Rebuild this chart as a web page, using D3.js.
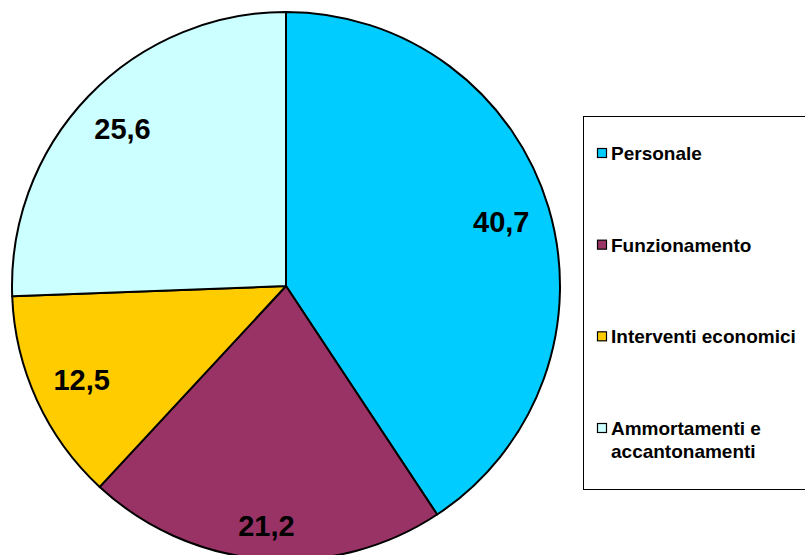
<!DOCTYPE html>
<html>
<head>
<meta charset="utf-8">
<script src="https://cdn.jsdelivr.net/npm/d3@7"></script>
<style>
  body { margin: 0; background: #fff; overflow: hidden; }
  svg { display: block; font-family: "Liberation Sans", Arial, sans-serif; }
</style>
</head>
<body>
<div id="chart"></div>
<script>
// spesa per categoria (%)
var categories = ["Personale", "Funzionamento", "Interventi economici", "Ammortamenti e accantonamenti"];
var values = [40.7, 21.2, 12.5, 25.6];
var labels = ["40,7", "21,2", "12,5", "25,6"];
var colors = ["#00CCFF", "#993366", "#FFCC00", "#CCFFFF"];

var svgWidth = 805;
var svgHeight = 555;

var cx = 286, cy = 286, radius = 274;
var labelFont = 29;

var svg = d3.select("#chart")
  .append("svg")
  .attr("width", svgWidth)
  .attr("height", svgHeight);

var pieGroup = svg.append("g")
  .attr("transform", `translate(${cx}, ${cy})`);

var pie = d3.pie().sort(null).value(function(d) { return d; });
var arc = d3.arc().innerRadius(0).outerRadius(radius);

var arcs = pie(values);

pieGroup.selectAll("path")
  .data(arcs)
  .enter()
  .append("path")
  .attr("d", arc)
  .attr("fill", function(d, i) { return colors[i]; })
  .attr("stroke", "#000")
  .attr("stroke-width", 2)
  .attr("stroke-linejoin", "round");

// labels: outer corner of the text box sits at ~0.93 r (like Excel)
var outerR = radius * 0.93;

pieGroup.selectAll("text")
  .data(arcs)
  .enter()
  .append("text")
  .attr("text-anchor", "middle")
  .attr("dy", "0.36em")
  .attr("font-size", labelFont + "px")
  .attr("font-weight", "bold")
  .attr("fill", "#000")
  .text(function(d, i) { return labels[i]; })
  .attr("transform", function(d) {
    var a = (d.startAngle + d.endAngle) / 2;
    var ux = Math.sin(a), uy = -Math.cos(a);
    var w = this.getComputedTextLength();
    var h = labelFont * 0.72;
    var c = [Math.sign(ux) * w / 2, Math.sign(uy) * h / 2];
    var uc = ux * c[0] + uy * c[1];
    var cc = c[0] * c[0] + c[1] * c[1];
    var dist = -uc + Math.sqrt(uc * uc - cc + outerR * outerR);
    return `translate(${ux * dist}, ${uy * dist})`;
  });

// legenda
var legend = svg.append("g");

legend.append("rect")
  .attr("x", 583.5)
  .attr("y", 116.5)
  .attr("width", 240)
  .attr("height", 373)
  .attr("fill", "#fff")
  .attr("stroke", "#000")
  .attr("stroke-width", 1);

var rowY = d3.scalePoint()
  .domain(categories)
  .range([153, 428]);

var items = legend.selectAll("g.item")
  .data(categories)
  .enter()
  .append("g")
  .attr("class", "item")
  .attr("transform", function(d) { return `translate(597, ${rowY(d)})`; });

items.append("rect")
  .attr("x", 0.5)
  .attr("y", -4.5)
  .attr("width", 9)
  .attr("height", 9)
  .attr("fill", function(d, i) { return colors[i]; })
  .attr("stroke", "#000")
  .attr("stroke-width", 1.2);

items.append("text")
  .attr("x", 14)
  .attr("y", 7)
  .attr("font-size", "19px")
  .attr("font-weight", "bold")
  .attr("fill", "#000")
  .each(function(d) {
    var t = d3.select(this);
    if (d === "Ammortamenti e accantonamenti") {
      t.append("tspan").attr("x", 14).attr("dy", 0).text("Ammortamenti e");
      t.append("tspan").attr("x", 14).attr("dy", 23).text("accantonamenti");
    } else {
      t.text(d);
    }
  });
</script>
</body>
</html>
